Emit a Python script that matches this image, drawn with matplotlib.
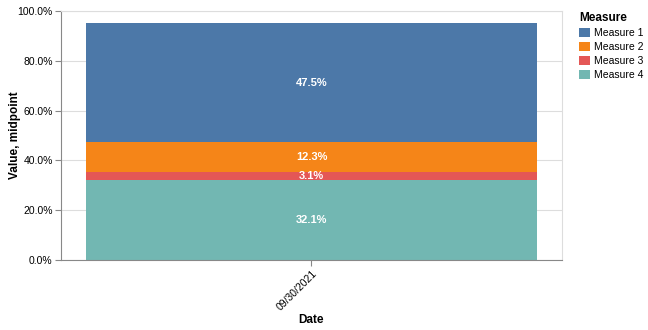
import matplotlib.pyplot as plt
from matplotlib.patches import Patch
from matplotlib.ticker import PercentFormatter

dates = ["09/30/2021"]
measures = ["Measure 1", "Measure 2", "Measure 3", "Measure 4"]
values = {
    "Measure 1": [47.5],
    "Measure 2": [12.3],
    "Measure 3": [3.1],
    "Measure 4": [32.1],
}
colors = {
    "Measure 1": "#4c78a8",
    "Measure 2": "#f58518",
    "Measure 3": "#e45756",
    "Measure 4": "#72b7b2",
}
stack_order = ["Measure 4", "Measure 3", "Measure 2", "Measure 1"]

plt.rcParams["font.family"] = ["Liberation Sans", "DejaVu Sans"]

fig = plt.figure(figsize=(6.48, 3.3), dpi=100)
ax = fig.add_axes([0.0941, 0.2121, 0.7732, 0.7546])

x = list(range(len(dates)))
bottom = [0.0] * len(dates)
for m in stack_order:
    vals = values[m]
    ax.bar(x, vals, bottom=bottom, width=0.9, color=colors[m], zorder=2)
    for xi, b, v in zip(x, bottom, vals):
        ax.text(xi, b + v / 2, f"{v:.1f}%", ha="center", va="center",
                color="white", fontsize=8, fontweight="bold", zorder=3)
    bottom = [b + v for b, v in zip(bottom, vals)]

ax.set_xlim(-0.5, len(dates) - 0.5)
ax.set_ylim(0, 100)
ax.set_yticks(range(0, 101, 20))
ax.yaxis.set_major_formatter(PercentFormatter(decimals=1))
ax.grid(axis="y", color="#dddddd", linewidth=0.8, zorder=0)
ax.set_axisbelow(True)

ax.set_xticks(x)
ax.set_xticklabels(dates, rotation=45, ha="right", rotation_mode="anchor")
ax.tick_params(axis="both", labelsize=7.5, color="#888888", length=4,
               width=0.8, pad=2)

for side in ("left", "bottom"):
    ax.spines[side].set_color("#888888")
    ax.spines[side].set_linewidth(0.8)
for side in ("top", "right"):
    ax.spines[side].set_color("#dddddd")
    ax.spines[side].set_linewidth(0.8)

ax.set_xlabel("Date", fontsize=8.5, fontweight="bold")
ax.set_ylabel("Value, midpoint", fontsize=8.5, fontweight="bold")
ax.xaxis.set_label_coords(0.5, -0.218)
ax.yaxis.set_label_coords(-0.08, 0.5)

handles = [Patch(facecolor=colors[m], label=m) for m in measures]
leg = fig.legend(handles=handles, title="Measure", loc="upper left",
                 bbox_to_anchor=(0.894, 0.965), frameon=False, fontsize=7.5,
                 title_fontproperties={"weight": "bold", "size": 8.5},
                 handlelength=1.0, handleheight=1.0, handletextpad=0.4,
                 labelspacing=0.38, borderaxespad=0, borderpad=0)
leg._legend_box.align = "left"

fig.savefig("out.png", dpi=100)
